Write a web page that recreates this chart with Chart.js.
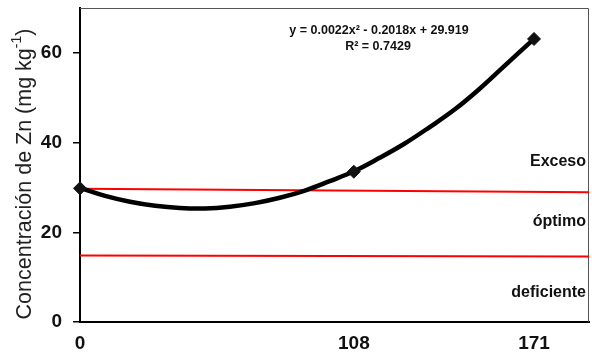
<!DOCTYPE html>
<html>
<head>
<meta charset="utf-8">
<script src="https://cdn.jsdelivr.net/npm/chart.js@4.4.1/dist/chart.umd.min.js"></script>
<style>
  html, body { margin: 0; padding: 0; background: #fff; }
  #wrap { width: 592px; height: 358px; }
</style>
</head>
<body>
<div id="wrap"><canvas id="grafico" width="592" height="358"></canvas></div>
<script>
// dosis aplicadas y concentración media de Zn
const dosis = [0, 108, 171];
const zinc = [29.8, 33.5, 63.1];

// línea de tendencia (polinómica de orden 2)
const tendX = [0, 9.9, 19.7, 29.6, 39.4, 49.3, 59.1, 69, 78.8, 88.7, 98.5, 108, 117, 125.8, 134.4, 143.1, 151.8, 160.5, 166, 171];
const tendY = [29.9, 28.1, 26.8, 25.9, 25.4, 25.3, 25.7, 26.5, 27.7, 29.3, 31.4, 33.6, 36.6, 39.8, 43.4, 47.3, 51.9, 57.0, 60.2, 63.1];

// límites de suficiencia
const limX = [0, 190];
const limSuperior = [29.7, 28.9];
const limInferior = [14.8, 14.6];

const ticksX = [0, 108, 171];
const ticksY = [0, 20, 40, 60];
const ecuacion = 'y = 0.0022x² - 0.2018x + 29.919';
const r2 = 'R² = 0.7429';
const zonas = [
  { texto: 'Exceso', y: 35.8 },
  { texto: 'óptimo', y: 22.3 },
  { texto: 'deficiente', y: 6.6 }
];

// eje x por tramos: cada marca tiene su propio espaciado
const tramoValor = [0, 108, 171, 190];
const tramoFrac = [0, 0.538, 0.892, 1];

function aFraccion(v) {
  for (let i = 1; i < tramoValor.length; i++) {
    if (v <= tramoValor[i] || i === tramoValor.length - 1) {
      const t = (v - tramoValor[i - 1]) / (tramoValor[i] - tramoValor[i - 1]);
      return tramoFrac[i - 1] + t * (tramoFrac[i] - tramoFrac[i - 1]);
    }
  }
  return 0;
}
function deFraccion(f) {
  for (let i = 1; i < tramoFrac.length; i++) {
    if (f <= tramoFrac[i] || i === tramoFrac.length - 1) {
      const t = (f - tramoFrac[i - 1]) / (tramoFrac[i] - tramoFrac[i - 1]);
      return tramoValor[i - 1] + t * (tramoValor[i] - tramoValor[i - 1]);
    }
  }
  return 0;
}

class EscalaTramos extends Chart.LinearScale {
  getPixelForValue(value) {
    return this.getPixelForDecimal(aFraccion(value));
  }
  getValueForPixel(pixel) {
    return deFraccion(this.getDecimalForPixel(pixel));
  }
}
EscalaTramos.id = 'tramos';
EscalaTramos.defaults = Chart.LinearScale.defaults;
Chart.register(EscalaTramos);

const pts = (xs, ys) => xs.map((x, i) => ({ x: x, y: ys[i] }));

function sinRelleno(s) {
  s.paddingTop = 0;
  s.paddingBottom = 0;
  s.paddingLeft = 0;
  s.paddingRight = 0;
}

// marco superior y derecho del área de trazado
const marco = {
  id: 'marco',
  beforeDatasetsDraw(chart) {
    const { ctx, chartArea: a } = chart;
    ctx.save();
    ctx.strokeStyle = '#555';
    ctx.lineWidth = 1;
    ctx.beginPath();
    ctx.moveTo(a.left, a.top + 0.5);
    ctx.lineTo(a.right - 0.5, a.top + 0.5);
    ctx.lineTo(a.right - 0.5, a.bottom);
    ctx.stroke();
    ctx.restore();
  }
};

// ecuación, zonas y título del eje y
const textos = {
  id: 'textos',
  afterDatasetsDraw(chart) {
    const { ctx, chartArea: a, scales } = chart;
    ctx.save();
    ctx.fillStyle = '#111';
    ctx.textBaseline = 'middle';

    ctx.font = 'bold 12.5px "Liberation Sans", Arial, sans-serif';
    ctx.textAlign = 'center';
    ctx.fillText(ecuacion, 379, 31);
    ctx.fillText(r2, 378, 47);

    ctx.font = 'bold 16px "Liberation Sans", Arial, sans-serif';
    ctx.textAlign = 'right';
    zonas.forEach(z => {
      ctx.fillText(z.texto, a.right - 3, scales.y.getPixelForValue(z.y));
    });

    // título vertical con superíndice
    const base = 'Concentración de Zn (mg kg';
    const sup = '-1';
    const fin = ')';
    const fBase = '21.5px "Liberation Sans", Arial, sans-serif';
    const fSup = '14px "Liberation Sans", Arial, sans-serif';
    ctx.font = fBase;
    const w1 = ctx.measureText(base).width;
    const w3 = ctx.measureText(fin).width;
    ctx.font = fSup;
    const w2 = ctx.measureText(sup).width;
    const total = w1 + w2 + w3;
    ctx.translate(25, 174);
    ctx.rotate(-Math.PI / 2);
    ctx.textAlign = 'left';
    ctx.fillStyle = '#222';
    let x = -total / 2;
    ctx.font = fBase;
    ctx.fillText(base, x, 0);
    x += w1;
    ctx.font = fSup;
    ctx.fillText(sup, x, -8);
    x += w2;
    ctx.font = fBase;
    ctx.fillText(fin, x, 0);
    ctx.restore();
  }
};

new Chart(document.getElementById('grafico'), {
  type: 'line',
  data: {
    datasets: [
      {
        data: pts(dosis, zinc),
        showLine: false,
        clip: false,
        pointStyle: 'rectRot',
        pointRadius: 6.5,
        pointBackgroundColor: '#111',
        pointBorderColor: '#111',
        pointBorderWidth: 1
      },
      {
        data: pts(tendX, tendY),
        borderColor: '#000',
        borderWidth: 4.5,
        tension: 0.4,
        pointRadius: 0,
        fill: false
      },
      {
        data: pts(limX, limSuperior),
        borderColor: '#ff0000',
        borderWidth: 2,
        pointRadius: 0
      },
      {
        data: pts(limX, limInferior),
        borderColor: '#ff0000',
        borderWidth: 2,
        pointRadius: 0
      }
    ]
  },
  options: {
    responsive: false,
    animation: false,
    layout: { autoPadding: false, padding: { top: 8, right: 3, left: 0, bottom: 0 } },
    plugins: { legend: { display: false }, tooltip: { enabled: false } },
    scales: {
      x: {
        type: 'tramos',
        min: 0,
        max: 190,
        afterBuildTicks: s => { s.ticks = ticksX.map(v => ({ value: v })); },
        afterFit: s => { s.height = 36; sinRelleno(s); },
        border: { display: true, color: '#000', width: 2 },
        grid: { display: false },
        ticks: {
          padding: 2,
          color: '#111',
          maxRotation: 0,
          font: { family: '"Liberation Sans", Arial, sans-serif', size: 19, weight: 'bold' }
        }
      },
      y: {
        min: 0,
        max: 70,
        afterBuildTicks: s => { s.ticks = ticksY.map(v => ({ value: v })); },
        afterFit: s => { s.width = 80; sinRelleno(s); },
        border: { display: true, color: '#000', width: 2 },
        grid: { drawOnChartArea: false, drawTicks: true, tickLength: 7, color: '#000', lineWidth: 1.5 },
        ticks: {
          padding: 11,
          color: '#111',
          font: { family: '"Liberation Sans", Arial, sans-serif', size: 19, weight: 'bold' }
        }
      }
    }
  },
  plugins: [marco, textos]
});
</script>
</body>
</html>
